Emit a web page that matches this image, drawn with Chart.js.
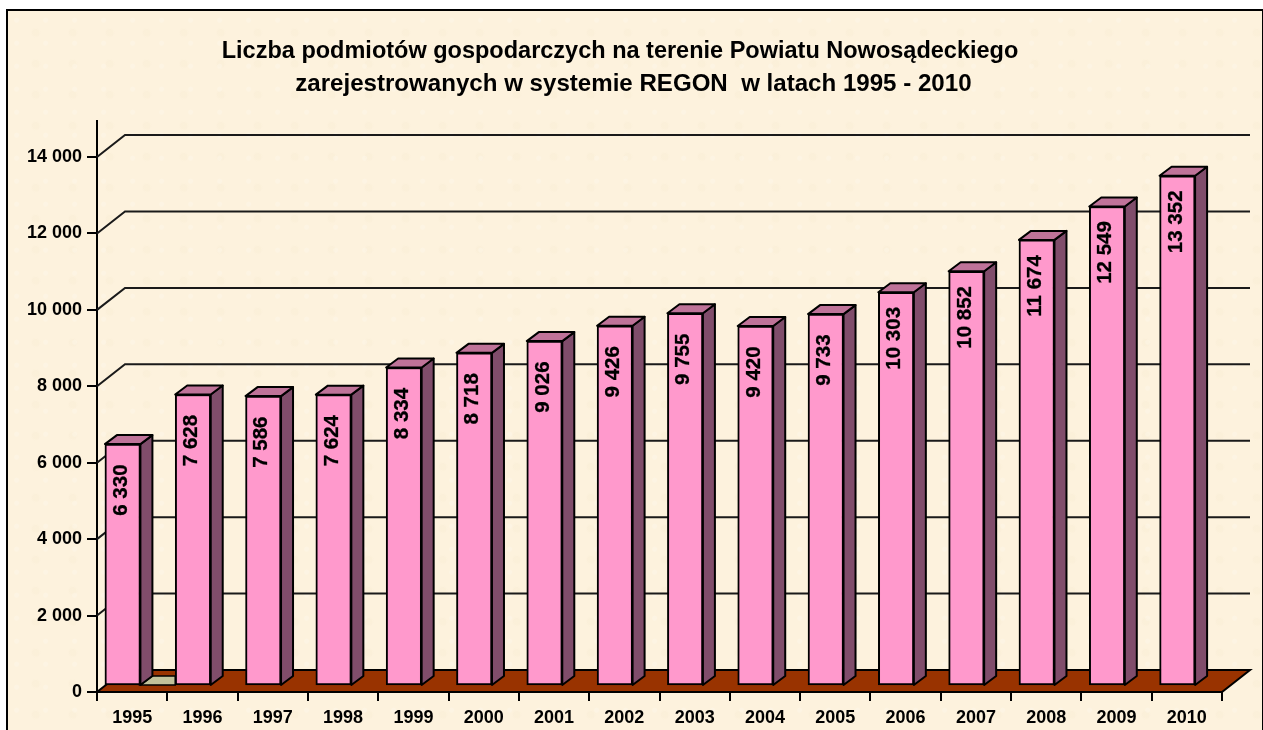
<!DOCTYPE html>
<html><head><meta charset="utf-8">
<script src="https://cdn.jsdelivr.net/npm/chart.js@4"></script>
<style>
html,body{margin:0;padding:0;background:#fff;overflow:hidden}
#frame{position:absolute;left:6px;top:9px;width:1254px;height:730px;border:2px solid #000;background-color:#FDF2DD;
background-image:radial-gradient(circle at 30% 40%,rgba(255,255,255,.18) 0 2px,transparent 3px),radial-gradient(circle at 75% 70%,rgba(240,222,190,.12) 0 3px,transparent 5px);background-size:29px 23px,37px 31px}
#wrap{position:absolute;left:0;top:0;width:1263px;height:730px}
</style></head><body>
<div id="frame"></div>
<div id="wrap"><canvas id="c" width="1263" height="730"></canvas></div>
<script>
const titleLine = "Liczba podmiotów gospodarczych na terenie Powiatu Nowosądeckiego";
const subtitleLine = "zarejestrowanych w systemie REGON  w latach 1995 - 2010";
const categories = ["1995","1996","1997","1998","1999","2000","2001","2002","2003","2004","2005","2006","2007","2008","2009","2010"];
const values = [6330,7628,7586,7624,8334,8718,9026,9426,9755,9420,9733,10303,10852,11674,12549,13352];
const yTicks = [0,2000,4000,6000,8000,10000,12000,14000];
const fmt = v => String(v).replace(/\B(?=(\d{3})+$)/g," ");

const FONT = '"Liberation Sans", Arial, sans-serif';
const floorD = {x:28,y:22};     // depth of the 3D floor/walls
const barShift = {x:-9.5,y:-6}; // front face of the bars relative to the axis
const barD = {x:12,y:9};        // depth of a bar

const plugin3d = {
  id:'plugin3d',
  beforeDatasetsDraw(chart){
    const {ctx,scales:{x,y}} = chart;
    const y0 = y.getPixelForValue(0), L = x.left, R = x.right;
    ctx.save();
    ctx.strokeStyle='#1a1a1a'; ctx.lineWidth=2;
    y.ticks.forEach(t=>{
      if(t.value===0) return;
      const py = y.getPixelForValue(t.value);
      ctx.beginPath(); ctx.moveTo(L,py); ctx.lineTo(L+floorD.x,py-floorD.y); ctx.lineTo(R+floorD.x,py-floorD.y); ctx.stroke();
    });
    // floor
    ctx.beginPath(); ctx.moveTo(L,y0); ctx.lineTo(R,y0); ctx.lineTo(R+floorD.x,y0-floorD.y); ctx.lineTo(L+floorD.x,y0-floorD.y); ctx.closePath();
    ctx.fillStyle='#993300'; ctx.fill(); ctx.strokeStyle='#000'; ctx.lineWidth=2; ctx.stroke();
    // olive patch behind the first gap
    const m = chart.getDatasetMeta(0).data;
    const xa = m[0].x + m[0].width/2 + barShift.x, xb = m[1].x - m[1].width/2 + barShift.x;
    const by = y0 + barShift.y - 1;
    ctx.beginPath(); ctx.moveTo(xa,by); ctx.lineTo(xa+barD.x,by-barD.y); ctx.lineTo(xb,by-barD.y); ctx.lineTo(xb,by); ctx.closePath();
    ctx.fillStyle='#C2C29A'; ctx.fill(); ctx.strokeStyle='#000'; ctx.lineWidth=1.5; ctx.stroke();
    ctx.restore();
  },
  beforeDatasetDraw(chart){
    const {ctx} = chart;
    const m = chart.getDatasetMeta(0).data;
    ctx.save();
    ctx.translate(barShift.x,barShift.y);
    ctx.lineWidth=2; ctx.strokeStyle='#000'; ctx.lineJoin='round';
    m.forEach(b=>{
      const l=b.x-b.width/2, r=b.x+b.width/2, t=b.y, bt=b.base;
      ctx.beginPath(); ctx.moveTo(r,t); ctx.lineTo(r+barD.x,t-barD.y); ctx.lineTo(r+barD.x,bt-barD.y); ctx.lineTo(r,bt); ctx.closePath();
      ctx.fillStyle='#804D6B'; ctx.fill(); ctx.stroke();
      ctx.beginPath(); ctx.moveTo(l,t); ctx.lineTo(l+barD.x,t-barD.y); ctx.lineTo(r+barD.x,t-barD.y); ctx.lineTo(r,t); ctx.closePath();
      ctx.fillStyle='#BF7399'; ctx.fill(); ctx.stroke();
    });
  },
  afterDatasetDraw(chart){
    const {ctx} = chart;
    const m = chart.getDatasetMeta(0).data;
    ctx.font='bold 20.5px '+FONT; ctx.fillStyle='#000'; ctx.strokeStyle='#000'; ctx.lineWidth=0.3; ctx.textAlign='center'; ctx.textBaseline='middle';
    m.forEach((b,i)=>{
      ctx.save(); ctx.translate(b.x-2.5,b.y+46); ctx.rotate(-Math.PI/2);
      const s=fmt(values[i]);
      ctx.fillText(s,0,1); ctx.strokeText(s,0,1); ctx.restore();
    });
    ctx.restore();
  }
};

new Chart(document.getElementById('c'),{
  type:'bar',
  data:{labels:categories,datasets:[{data:values,backgroundColor:'#FF99CC',borderColor:'#000',borderWidth:2,barThickness:35.5,borderSkipped:false}]},
  plugins:[plugin3d],
  options:{
    responsive:false,animation:false,
    layout:{padding:{left:18,right:41,top:0,bottom:0}},
    plugins:{
      legend:{display:false},tooltip:{enabled:false},
      title:{display:true,text:titleLine,color:'#000',font:{family:FONT,size:23.5,weight:'bold',lineHeight:32/23.5},padding:{top:36,bottom:0},align:'center'},
      subtitle:{display:true,text:'    '+subtitleLine,color:'#000',font:{family:FONT,size:24.1,weight:'bold',lineHeight:32/24.1},padding:{top:0,bottom:21},align:'center'}
    },
    scales:{
      x:{
        grid:{drawOnChartArea:false,drawTicks:true,tickLength:9,color:'#000',lineWidth:2},
        border:{color:'#000',width:2},
        ticks:{color:'#000',font:{family:FONT,size:18,weight:'bold'},padding:6,maxRotation:0,autoSkip:false},
        afterFit(s){s.height=38;}
      },
      y:{
        min:0,max:14943,
        afterBuildTicks(s){s.ticks=yTicks.map(v=>({value:v}));},
        grid:{drawOnChartArea:false,drawTicks:true,tickLength:10,color:'#000',lineWidth:2},
        border:{color:'#000',width:2},
        ticks:{color:'#000',font:{family:FONT,size:18,weight:'bold'},padding:5,callback:v=>fmt(v)},
        afterFit(s){s.width=79;}
      }
    }
  }
});
</script></body></html>
